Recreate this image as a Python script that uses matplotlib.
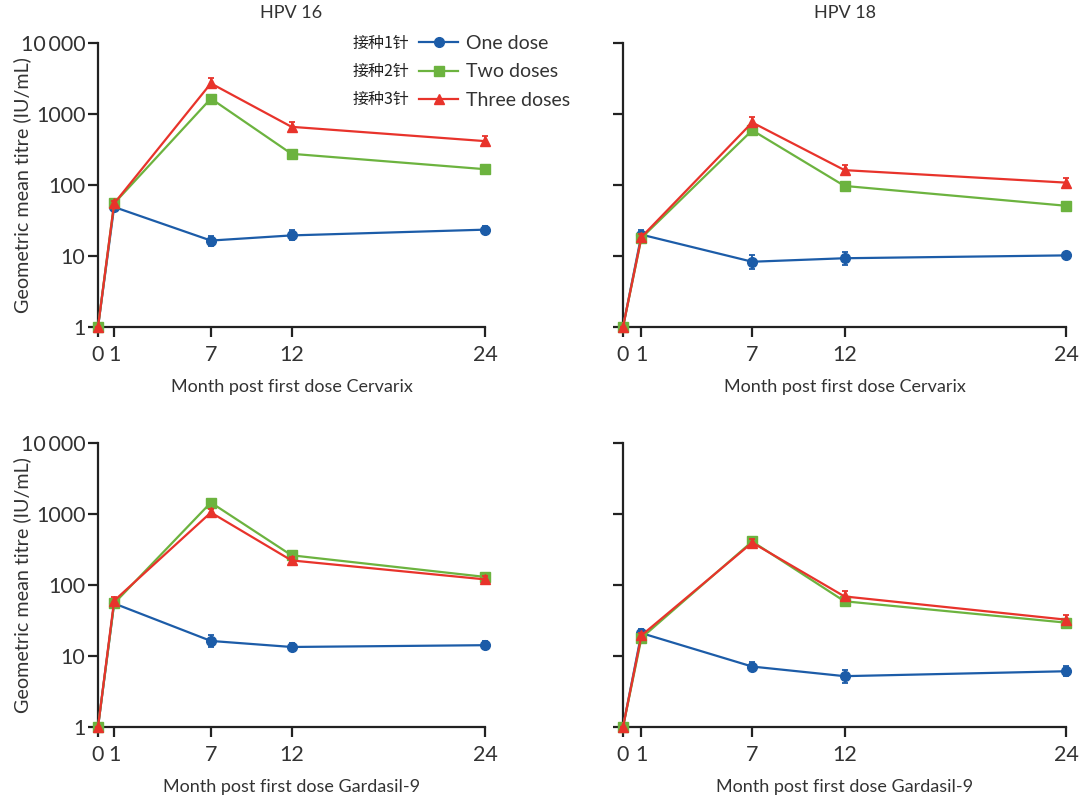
import matplotlib
matplotlib.use("Agg")
import matplotlib.pyplot as plt
import numpy as np
from matplotlib.ticker import FixedLocator, NullLocator
from matplotlib.lines import Line2D

plt.rcParams['font.family'] = ['Lato', 'Noto Sans CJK SC', 'DejaVu Sans']

months = [0, 1, 7, 12, 24]
month_labels = ["0", "1", "7", "12", "24"]
yticks = [1, 10, 100, 1000, 10000]
ytick_labels = ["1", "10", "100", "1000", "10\u2009000"]

series_names = ["One dose", "Two doses", "Three doses"]
series_cn = ["接种1针", "接种2针", "接种3针"]
panel_titles = ["HPV 16", "HPV 18", "", ""]
panel_xlabels = ["Month post first dose Cervarix", "Month post first dose Cervarix",
                 "Month post first dose Gardasil-9", "Month post first dose Gardasil-9"]
ylabel = "Geometric mean titre (IU/mL)"

# HPV16 Cervarix
c16_one = [1, 49, 16.5, 19.5, 23.5]
c16_two = [1, 55, 1650, 275, 167]
c16_three = [1, 55, 2700, 660, 415]
# HPV18 Cervarix
c18_one = [1, 20, 8.3, 9.3, 10.2]
c18_two = [1, 18, 590, 97, 51]
c18_three = [1, 18.5, 760, 162, 108]
# HPV16 Gardasil-9
g16_one = [1, 55, 16.3, 13.4, 14.2]
g16_two = [1, 55, 1450, 262, 130]
g16_three = [1, 60, 1050, 222, 120]
# HPV18 Gardasil-9
g18_one = [1, 21, 7.1, 5.2, 6.1]
g18_two = [1, 18, 410, 59, 29.5]
g18_three = [1, 19.5, 395, 69, 32.5]

# approximate error (log10 half-width) per point
c16_err = [[0, 0.04, 0.07, 0.07, 0.05], [0, 0.04, 0.05, 0.05, 0.05], [0, 0.04, 0.07, 0.07, 0.07]]
c18_err = [[0, 0.06, 0.10, 0.09, 0.04], [0, 0.04, 0.05, 0.05, 0.06], [0, 0.04, 0.07, 0.07, 0.06]]
g16_err = [[0, 0.04, 0.09, 0.06, 0.06], [0, 0.06, 0.05, 0.05, 0.05], [0, 0.05, 0.05, 0.05, 0.05]]
g18_err = [[0, 0.06, 0.06, 0.09, 0.07], [0, 0.04, 0.05, 0.05, 0.05], [0, 0.04, 0.05, 0.07, 0.06]]

panels = [
    [c16_one, c16_two, c16_three, c16_err],
    [c18_one, c18_two, c18_three, c18_err],
    [g16_one, g16_two, g16_three, g16_err],
    [g18_one, g18_two, g18_three, g18_err],
]

colors = ["#1c5ca8", "#6cb33f", "#e8332b"]
markers = ["o", "s", "^"]
msizes = [7, 6.5, 7.5]

W, H = 1080, 801
fig = plt.figure(figsize=(W / 100, H / 100), dpi=100)

# axes rects in pixels: left, right, top, bottom
rects_px = [(98, 485, 43, 327), (623, 1066, 43, 327),
            (98, 485, 443, 727), (623, 1066, 443, 727)]

text_color = "#333333"
axes = []
for i, (l, r, t, b) in enumerate(rects_px):
    ax = fig.add_axes([l / W, 1 - b / H, (r - l) / W, (b - t) / H])
    axes.append(ax)
    one, two, three, err = panels[i]
    for j, vals in enumerate([one, two, three]):
        v = np.array(vals, dtype=float)
        e = np.array(err[j])
        lo = v - v / 10 ** e
        hi = v * 10 ** e - v
        ax.errorbar(months, v, yerr=[lo, hi], color=colors[j], marker=markers[j],
                    markersize=msizes[j], lw=1.6, elinewidth=1.3, capsize=2.5,
                    capthick=1.3, clip_on=False, zorder=3 + j)
    ax.set_yscale("log")
    ax.set_xlim(0, 24)
    ax.set_ylim(1, 10000)
    ax.yaxis.set_major_locator(FixedLocator(yticks))
    ax.yaxis.set_minor_locator(NullLocator())
    ax.set_xticks(months)
    ax.set_xticklabels(month_labels)
    if i % 2 == 0:
        ax.set_yticklabels(ytick_labels)
        ax.set_ylabel(ylabel, fontsize=14.2, color=text_color)
        ax.yaxis.set_label_coords((31 - l) / (r - l), 0.5)
    else:
        ax.set_yticklabels([])
    for s in ["top", "right"]:
        ax.spines[s].set_visible(False)
    for s in ["left", "bottom"]:
        ax.spines[s].set_linewidth(1.6)
        ax.spines[s].set_color("#222222")
    ax.tick_params(axis="y", direction="out", length=7, width=1.6, color="#222222",
                   labelsize=15.5, labelcolor=text_color, pad=2)
    ax.tick_params(axis="x", direction="out", length=7, width=1.6, color="#222222",
                   labelsize=15.5, labelcolor=text_color, pad=6)
    ax.set_xlabel(panel_xlabels[i], fontsize=13, color=text_color, labelpad=10)
    if panel_titles[i]:
        ax.set_title(panel_titles[i], fontsize=13, color=text_color, pad=18)

ax0 = axes[0]
handles = [Line2D([], [], color=colors[j], marker=markers[j], markersize=msizes[j], lw=1.6)
           for j in range(3)]
leg = ax0.legend(handles, series_names, loc="upper left", bbox_to_anchor=(0.83, 1.028),
                 frameon=False, fontsize=14, handlelength=2.0, handletextpad=0.4,
                 labelspacing=0.58, borderpad=0, borderaxespad=0)
for txt in leg.get_texts():
    txt.set_color(text_color)
cn_y = [0.998, 0.899, 0.800]
for k in range(3):
    ax0.text(0.805, cn_y[k], series_cn[k], transform=ax0.transAxes, ha="right", va="center",
             fontsize=11.5, color="#222222", family=["Noto Sans CJK SC", "DejaVu Sans"])

fig.savefig("out.png", dpi=100)
